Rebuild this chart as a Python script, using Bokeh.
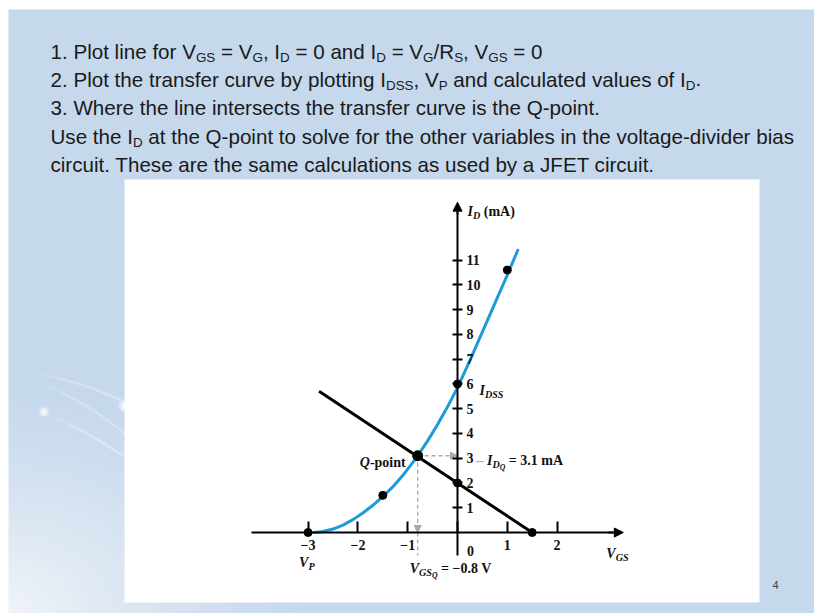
import numpy as np
from bokeh.plotting import figure
from bokeh.models import (Range1d, LinearAxis, FixedTicker, BoxAnnotation,
                          Label, Arrow, NormalHead)
from bokeh.embed import file_html
from bokeh.resources import INLINE

# ---------------------------------------------------------------- data ----
# JFET transfer curve: gate-source voltage (V) and drain current (mA)
curve_vgs = [-2.88, -2.7, -2.5, -2.3, -2.1, -1.9, -1.7, -1.5, -1.3, -1.1,
             -0.9, -0.8, -0.6, -0.4, -0.2, 0.0, 0.25, 0.5, 0.75, 1.0, 1.21]
curve_id = [0.0, 0.04, 0.14, 0.3, 0.52, 0.79, 1.1, 1.45, 1.84, 2.3,
            2.82, 3.1, 3.7, 4.36, 5.08, 5.85, 6.95, 8.1, 9.25, 10.4, 11.4]

# plotted points of the transfer curve (V_P, calculated point, I_DSS, calculated point)
curve_pts_vgs = [-3.0, -1.5, 0.0, 1.0]
curve_pts_id = [0.0, 1.5, 6.0, 10.6]

# bias line and its two construction points (I_D = V_G/R_S at V_GS = 0, V_GS = V_G at I_D = 0)
bias_vgs = [-2.78, 1.5]
bias_id = [5.7, 0.0]
bias_pts_vgs = [0.0, 1.5]
bias_pts_id = [2.0, 0.0]

# operating point
Q_VGS = -0.8
Q_ID = 3.1

# axis ticks
x_ticks = [-3, -2, -1, 0, 1, 2]
x_tick_labels = ["\u22123", "\u22122", "\u22121", "0", "1", "2"]
y_ticks = [1, 2, 3, 4, 5, 6, 7, 8, 9, 10, 11]
y_tick_labels = [str(t) for t in y_ticks]

# ------------------------------------------------------------- layout ----
W, H = 814, 613
ORIGIN_X, ORIGIN_Y = 457.0, 532.0      # canvas pixel of (0 V, 0 mA)
PX_PER_V, PX_PER_MA = 49.8, 24.76

X_AXIS_MIN, X_AXIS_TIP = -4.14, 3.33    # x-axis line extent (V)
Y_AXIS_MIN, Y_AXIS_TIP = -0.93, 13.34   # y-axis line extent (mA)

BLUE = "#1c9bd7"
GUIDE = "#a9a9a9"
SERIF = "Liberation Serif"
SANS = "Liberation Sans"

x_range = Range1d(-ORIGIN_X / PX_PER_V, (W - ORIGIN_X) / PX_PER_V)
y_range = Range1d(-(H - ORIGIN_Y) / PX_PER_MA, ORIGIN_Y / PX_PER_MA)

p = figure(width=W, height=H, x_range=x_range, y_range=y_range,
           x_axis_type=None, y_axis_type=None, output_backend="svg",
           toolbar_location=None, min_border=0, outline_line_color=None,
           background_fill_color="white", border_fill_color="white")


# ------------------------------------------------- slide background art ----
def slide_background():
    """Pale blue slide with a light lower-left corner and faint white streaks."""
    yy, xx = np.mgrid[0:H, 0:W].astype(float)
    dist = np.sqrt((xx / 330.0) ** 2 + ((H - yy) / 240.0) ** 2)
    glow = (np.clip(1.0 - dist, 0.0, 1.0) ** 1.3) * 0.8
    light = np.zeros((H, W))

    # faint streaks (quadratic curves) and small glowing dots on the left margin
    streaks = [((28, 371), (80, 380), (124, 401), 0.45),
               ((30, 378), (82, 398), (124, 433), 0.38),
               ((43, 411), (85, 430), (124, 456), 0.45)]
    t = np.linspace(0, 1, 160)
    for (x0, y0), (x1, y1), (x2, y2), strength in streaks:
        cx = (1 - t) ** 2 * x0 + 2 * (1 - t) * t * x1 + t ** 2 * x2
        cy = (1 - t) ** 2 * y0 + 2 * (1 - t) * t * y1 + t ** 2 * y2
        ys, xs = slice(int(min(cy)) - 4, int(max(cy)) + 5), slice(int(min(cx)) - 4, int(max(cx)) + 5)
        sub_x, sub_y = xx[ys, xs], yy[ys, xs]
        d = np.min(np.hypot(sub_x[..., None] - cx, sub_y[..., None] - cy), axis=-1)
        fade = np.clip((sub_x - x0) / 40.0, 0, 1)
        light[ys, xs] = np.maximum(light[ys, xs], strength * fade * np.exp(-(d / 1.0) ** 2))
    for (dx, dy, r) in [(43, 411, 4.5), (124, 405, 6.0)]:
        d = np.hypot(xx - dx, yy - dy)
        light = np.maximum(light, 0.85 * np.clip(1.2 - d / r, 0, 1) ** 0.7)

    base = np.array([197.0, 216.0, 236.0])
    rgb = base[None, None, :] * (1.0 - glow[..., None]) + 252.0 * glow[..., None]
    rgb = rgb * (1.0 - light[..., None]) + 255.0 * light[..., None]
    rgb[(yy < 9) | (xx < 8)] = 255.0
    img = np.empty((H, W), dtype=np.uint32)
    view = img.view(dtype=np.uint8).reshape(H, W, 4)
    view[..., :3] = np.clip(rgb, 0, 255).astype(np.uint8)
    view[..., 3] = 255
    return np.ascontiguousarray(img[::-1])


p.image_rgba(image=[slide_background()], x=x_range.start, y=y_range.start,
             dw=x_range.end - x_range.start, dh=y_range.end - y_range.start,
             level="image")

# white card holding the graph
p.add_layout(BoxAnnotation(left=124, right=759, top=H - 179, bottom=H - 602,
                           left_units="screen", right_units="screen",
                           top_units="screen", bottom_units="screen",
                           fill_color="white", fill_alpha=1.0, line_color=None,
                           level="underlay"))

# dashed projections from the Q-point to both axes
p.add_layout(Arrow(x_start=Q_VGS, y_start=Q_ID, x_end=0, y_end=Q_ID,
                   line_color=GUIDE, line_width=1.3, line_dash="4 3",
                   end=NormalHead(size=7, fill_color=GUIDE, line_color=GUIDE),
                   level="underlay"))
p.add_layout(Arrow(x_start=Q_VGS, y_start=Q_ID, x_end=Q_VGS, y_end=0,
                   line_color=GUIDE, line_width=1.3, line_dash="4 3",
                   end=NormalHead(size=7, fill_color=GUIDE, line_color=GUIDE),
                   level="underlay"))
p.segment(x0=[Q_VGS], y0=[0], x1=[Q_VGS], y1=[Y_AXIS_MIN],
          line_color=GUIDE, line_width=1.3, line_dash="4 3")

# curves
p.line(curve_vgs, curve_id, line_color=BLUE, line_width=3,
       line_join="round", line_cap="round")
p.line(bias_vgs, bias_id, line_color="black", line_width=3)

# marked points
p.scatter(curve_pts_vgs, curve_pts_id, size=8, color="black")
p.scatter(bias_pts_vgs, bias_pts_id, size=8, color="black")
p.scatter([Q_VGS], [Q_ID], size=10, color="black")

# axes crossing at the origin
axis_style = dict(axis_line_color="black", axis_line_width=2,
                  major_tick_line_color="black", major_tick_line_width=2,
                  minor_tick_line_color=None,
                  major_label_text_font=SERIF, major_label_text_font_size="14px",
                  major_label_text_font_style="bold",
                  major_label_text_color="#111111")

x_overrides = {t: lab for t, lab in zip(x_ticks, x_tick_labels)}
x_overrides[0] = ""
xaxis = LinearAxis(fixed_location=0, ticker=FixedTicker(ticks=x_ticks),
                   bounds=(X_AXIS_MIN, X_AXIS_TIP - 0.2),
                   major_tick_in=11, major_tick_out=0, major_label_standoff=7,
                   major_label_overrides=x_overrides, **axis_style)
p.add_layout(xaxis, "below")

yaxis = LinearAxis(fixed_location=0, ticker=FixedTicker(ticks=y_ticks),
                   bounds=(Y_AXIS_MIN, Y_AXIS_TIP - 0.4),
                   major_tick_in=5, major_tick_out=5, major_label_standoff=4,
                   major_label_overrides={t: lab for t, lab in zip(y_ticks, y_tick_labels)},
                   **axis_style)
p.add_layout(yaxis, "right")

p.add_layout(Arrow(x_start=X_AXIS_TIP - 0.3, y_start=0, x_end=X_AXIS_TIP, y_end=0,
                   line_color="black", line_width=2,
                   end=NormalHead(size=9, fill_color="black", line_color="black")))
p.add_layout(Arrow(x_start=0, y_start=Y_AXIS_TIP - 0.5, x_end=0, y_end=Y_AXIS_TIP,
                   line_color="black", line_width=2,
                   end=NormalHead(size=9, fill_color="black", line_color="black")))

# ------------------------------------------------------ rich text runs ----
# advance widths (1/1000 em) used to set runs of text side by side
SANS_W = {" ": 278, ".": 278, ",": 278, "/": 278, "-": 333, "=": 584,
          "0": 556, "1": 556, "2": 556, "3": 556,
          "A": 667, "C": 722, "D": 722, "E": 667, "F": 611, "G": 778, "I": 278,
          "J": 500, "P": 667, "Q": 778, "R": 722, "S": 667, "T": 611, "U": 722,
          "V": 667, "W": 944,
          "a": 556, "b": 556, "c": 500, "d": 556, "e": 556, "f": 278, "g": 556,
          "h": 556, "i": 222, "j": 222, "k": 500, "l": 222, "m": 833, "n": 556,
          "o": 556, "p": 556, "q": 556, "r": 333, "s": 500, "t": 278, "u": 556,
          "v": 500, "w": 722, "x": 500, "y": 500, "z": 500}
SERIF_W = {" ": 250, ".": 250, "-": 333, "=": 570, "\u2212": 570, "\u2013": 500,
           "(": 333, ")": 333, "0": 500, "1": 500, "2": 500, "3": 500, "8": 500,
           "A": 722, "V": 722, "m": 833, "o": 500, "p": 556, "i": 278, "n": 556,
           "t": 333}
SERIF_IT_W = {"I": 389, "D": 722, "S": 556, "Q": 722, "G": 722, "P": 611, "V": 667}


def run_width(text, size, italic, table):
    tab = SERIF_IT_W if italic and table is SERIF_W else table
    return sum(tab.get(ch, 500) for ch in text) * size / 1000.0


def draw_runs(runs, x, y, units, font, size, table, x_off=0.0, y_off=0.0,
              color="black", align="left", weight="normal"):
    """runs: (text, size factor, drop in px, italic[, colour])"""
    widths = [run_width(r[0], size * r[1], r[3], table) for r in runs]
    cx = x_off - (sum(widths) if align == "right" else 0.0)
    for r, w in zip(runs, widths):
        text, fac, drop, italic = r[:4]
        col = r[4] if len(r) > 4 else color
        stripped = text.lstrip(" ")
        lead = run_width(text[:len(text) - len(stripped)], size * fac, italic, table)
        if weight == "bold":
            style = "bold italic" if italic else "bold"
        else:
            style = "italic" if italic else "normal"
        p.add_layout(Label(x=x, y=y, x_units=units, y_units=units,
                           x_offset=cx + lead, y_offset=y_off - drop,
                           text=stripped.rstrip(" "), text_font=font,
                           text_font_size=f"{size * fac:.1f}px",
                           text_font_style=style,
                           text_color=col, text_baseline="alphabetic",
                           text_align="left"))
        cx += w


# slide text
FS = 20.6
SUB = 0.65
DROP = 6.0
lines = [
    [("1. Plot line for V", 1, 0, False), ("GS", SUB, DROP, False), (" = V", 1, 0, False),
     ("G", SUB, DROP, False), (", I", 1, 0, False), ("D", SUB, DROP, False),
     (" = 0 and I", 1, 0, False), ("D", SUB, DROP, False), (" = V", 1, 0, False),
     ("G", SUB, DROP, False), ("/R", 1, 0, False), ("S", SUB, DROP, False),
     (", V", 1, 0, False), ("GS", SUB, DROP, False), (" = 0", 1, 0, False)],
    [("2. Plot the transfer curve by plotting I", 1, 0, False), ("DSS", SUB, DROP, False),
     (", V", 1, 0, False), ("P", SUB, DROP, False),
     (" and calculated values of I", 1, 0, False), ("D", SUB, DROP, False), (".", 1, 0, False)],
    [("3. Where the line intersects the transfer curve is the Q-point.", 1, 0, False)],
    [("Use the I", 1, 0, False), ("D", SUB, DROP, False),
     (" at the Q-point to solve for the other variables in the voltage-divider bias", 1, 0, False)],
    [("circuit. These are the same calculations as used by a JFET circuit.", 1, 0, False)],
]
for i, runs in enumerate(lines):
    baseline_px = 50.5 + 28.4 * i
    draw_runs(runs, 50, H - baseline_px, "screen", SANS, FS, SANS_W, color="#1a1a1a")

# page number
p.add_layout(Label(x=775, y=H - 584, x_units="screen", y_units="screen", text="4",
                   text_font=SANS, text_font_size="11px", text_color="#404040",
                   text_align="center", text_baseline="alphabetic"))

# graph annotations
CF = 14
G = dict(font=SERIF, size=CF, table=SERIF_W, color="#111111", weight="bold")
draw_runs([("I", 1, 0, True), ("D", 0.72, 3.5, True), (" (mA)", 1, 0, False)],
          0, Y_AXIS_TIP, "data", x_off=10, y_off=-9.5, **G)
draw_runs([("I", 1, 0, True), ("DSS", 0.72, 3.5, True)],
          0, curve_pts_id[2], "data", x_off=22, y_off=-6.6, **G)
draw_runs([("\u2013", 1, 0, False, GUIDE), (" ", 1, 0, False), ("I", 1, 0, True),
           ("D", 0.72, 3.5, True), ("Q", 0.55, 6.5, True),
           (f" = {Q_ID} mA", 1, 0, False)],
          0, Q_ID, "data", x_off=19, y_off=-4.8, **G)
draw_runs([("Q", 1, 0, True), ("-point", 1, 0, False)],
          Q_VGS, Q_ID, "data", x_off=-12, y_off=-6.5, align="right", **G)
draw_runs([("V", 1, 0, True), ("GS", 0.72, 3.5, True)],
          X_AXIS_TIP, 0, "data", x_off=-17, y_off=-21, **G)
draw_runs([("V", 1, 0, True), ("P", 0.72, 3.5, True)],
          curve_pts_vgs[0], 0, "data", x_off=-9, y_off=-30, **G)
draw_runs([("V", 1, 0, True), ("GS", 0.72, 3.5, True), ("Q", 0.55, 6.5, True),
           (f" = \u2212{abs(Q_VGS)} V", 1, 0, False)],
          Q_VGS, 0, "data", x_off=-8, y_off=-36, **G)

# the origin's "0" sits to the right of the vertical axis
p.add_layout(Label(x=0, y=0, text=x_tick_labels[x_ticks.index(0)], x_offset=13, y_offset=-18.5,
                   text_font=SERIF, text_font_size="14px", text_font_style="bold",
                   text_color="#111111", text_align="center", text_baseline="alphabetic"))

open("out.html", "w").write(file_html(p, INLINE))
